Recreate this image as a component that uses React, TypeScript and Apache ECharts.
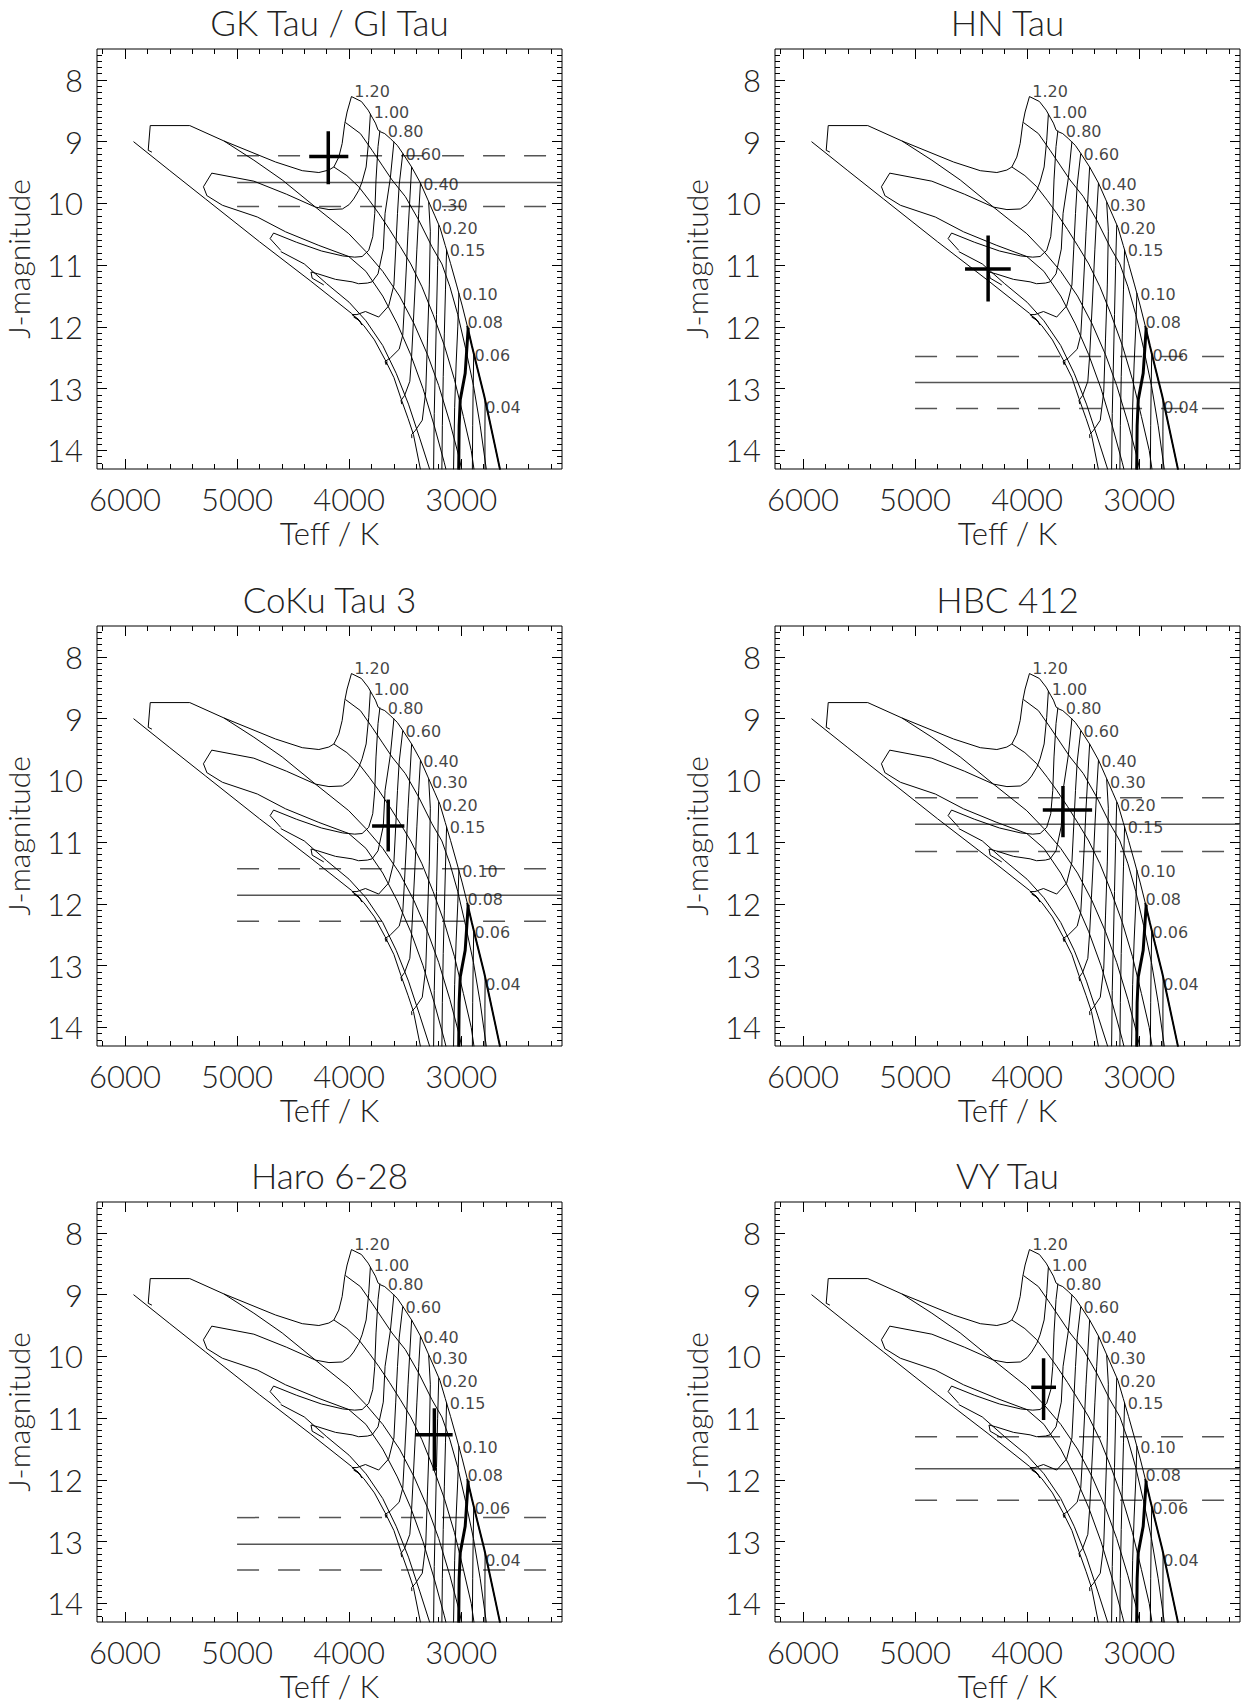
import React, { useEffect, useRef } from "react";
import * as echarts from "echarts";

const PAGE_W = 1251;
const PAGE_H = 1703;
const FONT = "Lato, 'Liberation Sans', sans-serif";
const LABEL_FONT = "'DejaVu Sans', sans-serif";

// Axis ranges
const TEFF_MIN = 2100;
const TEFF_MAX = 6250;
const J_MIN = 7.5;
const J_MAX = 14.3;
const X_TICK_LABELS = [6000, 5000, 4000, 3000];
const Y_TICK_LABELS = [8, 9, 10, 11, 12, 13, 14];

// Evolutionary (mass) tracks: [Teff, J]
const TRACK_1_20 = [[3979,8.27],[4018,8.52],[4039,8.71],[4062,9.03],[4092,9.25],[4136,9.41],[4181,9.46],[4270,9.50],[4418,9.47],[4656,9.33],[5116,8.99],[5422,8.74],[5775,8.74],[5793,9.14],[5760,9.17]];
const TRACK_1_00 = [[3810,8.55],[3825,8.98],[3848,9.41],[3884,9.65],[3914,9.79],[3960,9.93],[4000,10.02],[4060,10.09],[4180,10.10],[4300,10.06],[4560,9.85],[4850,9.64],[5226,9.51],[5300,9.73],[5270,9.87]];
const TRACK_0_80 = [[3725,8.82],[3742,9.08],[3760,9.62],[3771,10.16],[3789,10.54],[3825,10.76],[3884,10.86],[3950,10.87],[4058,10.85],[4247,10.77],[4468,10.63],[4674,10.48],[4705,10.57],[4610,10.76]];
const TRACK_0_70 = [[3600,9.00],[3632,9.59],[3679,10.16],[3695,10.74],[3742,11.14],[3795,11.27],[3837,11.29],[3916,11.30],[3973,11.27],[4121,11.23],[4279,11.14],[4340,11.11],[4330,11.21],[4226,11.32]];
const TRACK_0_60 = [[3521,9.19],[3553,9.70],[3568,10.16],[3584,10.74],[3600,11.32],[3647,11.66],[3736,11.84],[3854,11.75],[3930,11.80],[3975,11.80],[3920,11.87],[3884,11.97],[3905,11.90],[3960,11.84]];
const TRACK_0_50 = [[3442,9.41],[3458,9.93],[3474,10.45],[3489,11.03],[3505,11.61],[3521,12.13],[3553,12.36],[3631,12.50],[3679,12.56],[3670,12.61],[3660,12.56]];
const TRACK_0_40 = [[3363,9.67],[3379,10.16],[3395,10.74],[3410,11.32],[3426,11.90],[3442,12.47],[3458,12.88],[3505,13.11],[3537,13.19],[3530,13.25]];
const TRACK_0_30 = [[3290,9.98],[3275,10.45],[3284,11.32],[3300,12.18],[3316,13.05],[3347,13.51],[3410,13.68],[3442,13.74],[3440,13.80]];
const TRACK_0_20 = [[3200,10.35],[3210,11.00],[3220,11.80],[3230,12.60],[3240,13.40],[3246,14.31]];
const TRACK_0_15 = [[3130,10.75],[3140,11.40],[3150,12.10],[3160,12.80],[3168,13.60],[3172,14.31]];
const TRACK_0_10 = [[3020,11.45],[3030,12.00],[3045,12.60],[3058,13.30],[3068,14.31]];
const TRACK_0_08 = [[2937,12.01],[2964,12.75],[3008,13.18],[3018,13.60],[3022,14.31]];
const TRACK_0_06 = [[2888,12.45],[2893,13.00],[2897,13.60],[2900,14.31]];
const TRACK_0_04 = [[2786,13.20],[2788,13.70],[2787,14.31]];
const THIN_TRACKS = [TRACK_1_20, TRACK_1_00, TRACK_0_80, TRACK_0_70, TRACK_0_60, TRACK_0_50, TRACK_0_40, TRACK_0_30, TRACK_0_20, TRACK_0_15, TRACK_0_10, TRACK_0_06, TRACK_0_04];
const THICK_TRACK = TRACK_0_08;

// Isochrones: [Teff, J]
const ISO_A = [[3979,8.27],[3890,8.35],[3830,8.49],[3790,8.62],[3765,8.70],[3742,8.81],[3721,8.84],[3682,8.87],[3632,8.95],[3570,9.06],[3521,9.19],[3442,9.41],[3363,9.67],[3300,9.93],[3237,10.19],[3189,10.39],[3142,10.68],[3095,10.97],[3041,11.32],[2990,11.66],[2946,11.98],[2905,12.30],[2858,12.65],[2795,13.11],[2747,13.51],[2700,13.91],[2653,14.31]];
const ISO_B = [[4033,8.69],[3899,8.87],[3795,9.14],[3706,9.38],[3617,9.62],[3498,9.89],[3379,10.27],[3261,10.70],[3172,10.98],[3100,11.35],[3030,11.80],[2960,12.35],[2890,12.95],[2830,13.60],[2775,14.31]];
const ISO_C = [[4136,9.41],[4020,9.55],[3914,9.73],[3820,9.95],[3736,10.16],[3640,10.42],[3543,10.70],[3450,10.98],[3350,11.35],[3250,11.80],[3150,12.30],[3060,12.85],[2980,13.45],[2910,14.00],[2885,14.31]];
const ISO_D = [[5116,8.99],[4850,9.30],[4597,9.62],[4300,10.06],[4003,10.49],[3850,10.78],[3700,11.10],[3550,11.50],[3420,11.95],[3300,12.45],[3200,12.95],[3100,13.55],[3020,14.10],[2995,14.31]];
const ISO_E = [[5273,9.87],[5131,10.03],[4819,10.22],[4567,10.46],[4270,10.68],[4003,10.86],[3850,11.10],[3700,11.50],[3570,11.95],[3450,12.45],[3340,13.00],[3240,13.60],[3150,14.20],[3135,14.31]];
const ISO_F = [[4610,10.78],[4400,10.98],[4200,11.30],[4000,11.60],[3850,11.90],[3700,12.30],[3580,12.75],[3470,13.25],[3370,13.80],[3280,14.31]];
const ISO_G = [[5924,9.00],[5600,9.47],[5280,9.93],[4800,10.62],[4348,11.25],[3979,11.78],[3868,11.98],[3774,12.21],[3679,12.53],[3600,12.82],[3537,13.16],[3474,13.48],[3426,13.74],[3363,14.31]];
const ISOCHRONES = [ISO_A, ISO_B, ISO_C, ISO_D, ISO_E, ISO_F, ISO_G];

// Mass labels (left edge Teff, centre J)
const MASS_LABELS = ["1.20","1.00","0.80","0.60","0.40","0.30","0.20","0.15","0.10","0.08","0.06","0.04"];
const MASS_LABEL_TEFF = [3963,3790,3663,3506,3348,3269,3180,3111,3000,2953,2890,2795];
const MASS_LABEL_J = [8.19,8.52,8.83,9.20,9.69,10.04,10.41,10.77,11.48,11.92,12.47,13.31];

// Per-panel data
const PANEL_TITLES = ["GK Tau / GI Tau", "HN Tau", "CoKu Tau 3", "HBC 412", "Haro 6-28", "VY Tau"];
const STAR_TEFF = [4186, 4348, 3651, 3680, 3239, 3853];
const STAR_TEFF_HOT = [4356, 4554, 3795, 3860, 3411, 3963];
const STAR_TEFF_COOL = [4007, 4146, 3507, 3420, 3076, 3742];
const STAR_J = [9.24, 11.06, 10.74, 10.48, 11.27, 10.50];
const STAR_J_BRIGHT = [8.83, 10.52, 10.31, 10.09, 10.84, 10.03];
const STAR_J_FAINT = [9.69, 11.59, 11.15, 10.92, 11.85, 11.03];
const COMP_J = [9.66, 12.90, 11.86, 10.71, 13.04, 11.82];
const COMP_J_BRIGHT = [9.23, 12.48, 11.43, 10.28, 12.61, 11.30];
const COMP_J_FAINT = [10.05, 13.32, 12.28, 11.15, 13.46, 12.33];
const COMP_TEFF_START = 5000;

// Layout
const COL_LEFT = [97, 775];
const ROW_TOP = [49, 626, 1202];
const GRID_W = 465;
const GRID_H = 420;

function range(a: number, b: number, step: number, skip: number[]) {
  const out: number[] = [];
  const n = Math.round((b - a) / step);
  for (let i = 0; i <= n; i++) {
    const v = Math.round((a + i * step) * 1000) / 1000;
    if (!skip.some((s) => Math.abs(s - v) < 1e-6)) out.push(v);
  }
  return out;
}
const X_MINOR = range(2200, 6200, 200, X_TICK_LABELS);
const Y_MINOR = range(7.6, 14.2, 0.1, Y_TICK_LABELS);

function buildOption() {
  const grids: any[] = [];
  const xAxes: any[] = [];
  const yAxes: any[] = [];
  const series: any[] = [];
  const graphics: any[] = [];
  const textColor = "#222";
  const tickLabel = { fontSize: 31, fontFamily: FONT, fontWeight: 300, color: textColor, margin: 14, formatter: (v: number) => String(v) };

  for (let p = 0; p < 6; p++) {
    const col = p % 2;
    const row = Math.floor(p / 2);
    const left = COL_LEFT[col];
    const top = ROW_TOP[row];
    grids.push({ left, top, width: GRID_W, height: GRID_H, show: true, borderColor: "#000", borderWidth: 1, backgroundColor: "transparent" });
    const xi = xAxes.length;
    const yi = yAxes.length;
    const xBase = { gridIndex: p, type: "value", min: TEFF_MIN, max: TEFF_MAX, inverse: true, splitLine: { show: false }, axisLine: { show: false, onZero: false } };
    const yBase = { gridIndex: p, type: "value", min: J_MIN, max: J_MAX, inverse: true, splitLine: { show: false }, axisLine: { show: false, onZero: false } };
    xAxes.push({ ...xBase, position: "bottom", axisTick: { show: true, inside: true, length: 10, customValues: X_TICK_LABELS, lineStyle: { color: "#000" } },
      axisLabel: { ...tickLabel, show: true, customValues: X_TICK_LABELS },
      name: "Teff / K", nameLocation: "middle", nameGap: 48, nameTextStyle: { fontSize: 31, fontFamily: FONT, fontWeight: 300, color: textColor } });
    xAxes.push({ ...xBase, position: "bottom", axisTick: { show: true, inside: true, length: 5, customValues: X_MINOR, lineStyle: { color: "#000" } }, axisLabel: { show: false } });
    xAxes.push({ ...xBase, position: "top", axisTick: { show: true, inside: true, length: 10, customValues: X_TICK_LABELS, lineStyle: { color: "#000" } }, axisLabel: { show: false } });
    xAxes.push({ ...xBase, position: "top", axisTick: { show: true, inside: true, length: 5, customValues: X_MINOR, lineStyle: { color: "#000" } }, axisLabel: { show: false } });
    yAxes.push({ ...yBase, position: "left", axisTick: { show: true, inside: true, length: 10, customValues: Y_TICK_LABELS, lineStyle: { color: "#000" } },
      axisLabel: { ...tickLabel, show: true, customValues: Y_TICK_LABELS },
      name: "J-magnitude", nameLocation: "middle", nameGap: 64, nameRotate: 90, nameTextStyle: { fontSize: 30, fontFamily: FONT, fontWeight: 300, color: textColor } });
    yAxes.push({ ...yBase, position: "left", axisTick: { show: true, inside: true, length: 5, customValues: Y_MINOR, lineStyle: { color: "#000" } }, axisLabel: { show: false } });
    yAxes.push({ ...yBase, position: "right", axisTick: { show: true, inside: true, length: 10, customValues: Y_TICK_LABELS, lineStyle: { color: "#000" } }, axisLabel: { show: false } });
    yAxes.push({ ...yBase, position: "right", axisTick: { show: true, inside: true, length: 5, customValues: Y_MINOR, lineStyle: { color: "#000" } }, axisLabel: { show: false } });

    const base = { xAxisIndex: xi, yAxisIndex: yi, silent: true, animation: false };
    const lineBase = { ...base, type: "line", symbol: "none", showSymbol: false };
    THIN_TRACKS.forEach((t) => series.push({ ...lineBase, data: t, lineStyle: { color: "#000", width: 1 }, z: 3 }));
    series.push({ ...lineBase, data: THICK_TRACK, lineStyle: { color: "#000", width: 3 }, z: 4 });
    ISOCHRONES.forEach((iso) => series.push({ ...lineBase, data: iso, lineStyle: { color: "#000", width: 1 }, z: 3 }));
    series.push({ ...lineBase, data: ISO_A.filter((d) => d[1] >= 11.9), lineStyle: { color: "#000", width: 2 }, z: 4 });

    series.push({ ...base, type: "scatter", symbol: "circle", symbolSize: 2, itemStyle: { color: "rgba(0,0,0,0)" },
      data: MASS_LABELS.map((m, k) => ({ name: m, value: [MASS_LABEL_TEFF[k], MASS_LABEL_J[k]] })),
      label: { show: true, position: "right", distance: 0, formatter: "{b}", fontSize: 16, lineHeight: 16, fontFamily: LABEL_FONT, fontWeight: 400, color: "#111", textBorderWidth: 0, textBorderColor: "transparent" }, z: 5 });

    // companion magnitude limits
    series.push({ ...lineBase, data: [[COMP_TEFF_START, COMP_J[p]], [TEFF_MIN, COMP_J[p]]], lineStyle: { color: "#555", width: 1.5 }, z: 2 });
    series.push({ ...lineBase, data: [[COMP_TEFF_START, COMP_J_BRIGHT[p]], [TEFF_MIN, COMP_J_BRIGHT[p]]], lineStyle: { color: "#555", width: 1.5, type: [22, 19] }, z: 2 });
    series.push({ ...lineBase, data: [[COMP_TEFF_START, COMP_J_FAINT[p]], [TEFF_MIN, COMP_J_FAINT[p]]], lineStyle: { color: "#555", width: 1.5, type: [22, 19] }, z: 2 });

    // star error cross
    series.push({ ...lineBase, data: [[STAR_TEFF_HOT[p], STAR_J[p]], [STAR_TEFF_COOL[p], STAR_J[p]]], lineStyle: { color: "#000", width: 3.5 }, z: 6 });
    series.push({ ...lineBase, data: [[STAR_TEFF[p], STAR_J_BRIGHT[p]], [STAR_TEFF[p], STAR_J_FAINT[p]]], lineStyle: { color: "#000", width: 3.5 }, z: 6 });

    graphics.push({ type: "text", x: left + GRID_W / 2, y: top - 27, style: { text: PANEL_TITLES[p], fontSize: 35, fontFamily: FONT, fontWeight: 300, fill: textColor, textAlign: "center", textVerticalAlign: "middle" } });
  }

  return { animation: false, backgroundColor: "#fff", grid: grids, xAxis: xAxes, yAxis: yAxes, series, graphic: graphics };
}

export default function App() {
  const ref = useRef<HTMLDivElement>(null);
  useEffect(() => {
    if (!ref.current) return;
    const chart = echarts.init(ref.current, undefined, { renderer: "svg" });
    chart.setOption(buildOption() as any);
    return () => chart.dispose();
  }, []);
  return <div ref={ref} style={{ position: "absolute", left: 0, top: 0, width: PAGE_W, height: PAGE_H, background: "#fff" }} />;
}
